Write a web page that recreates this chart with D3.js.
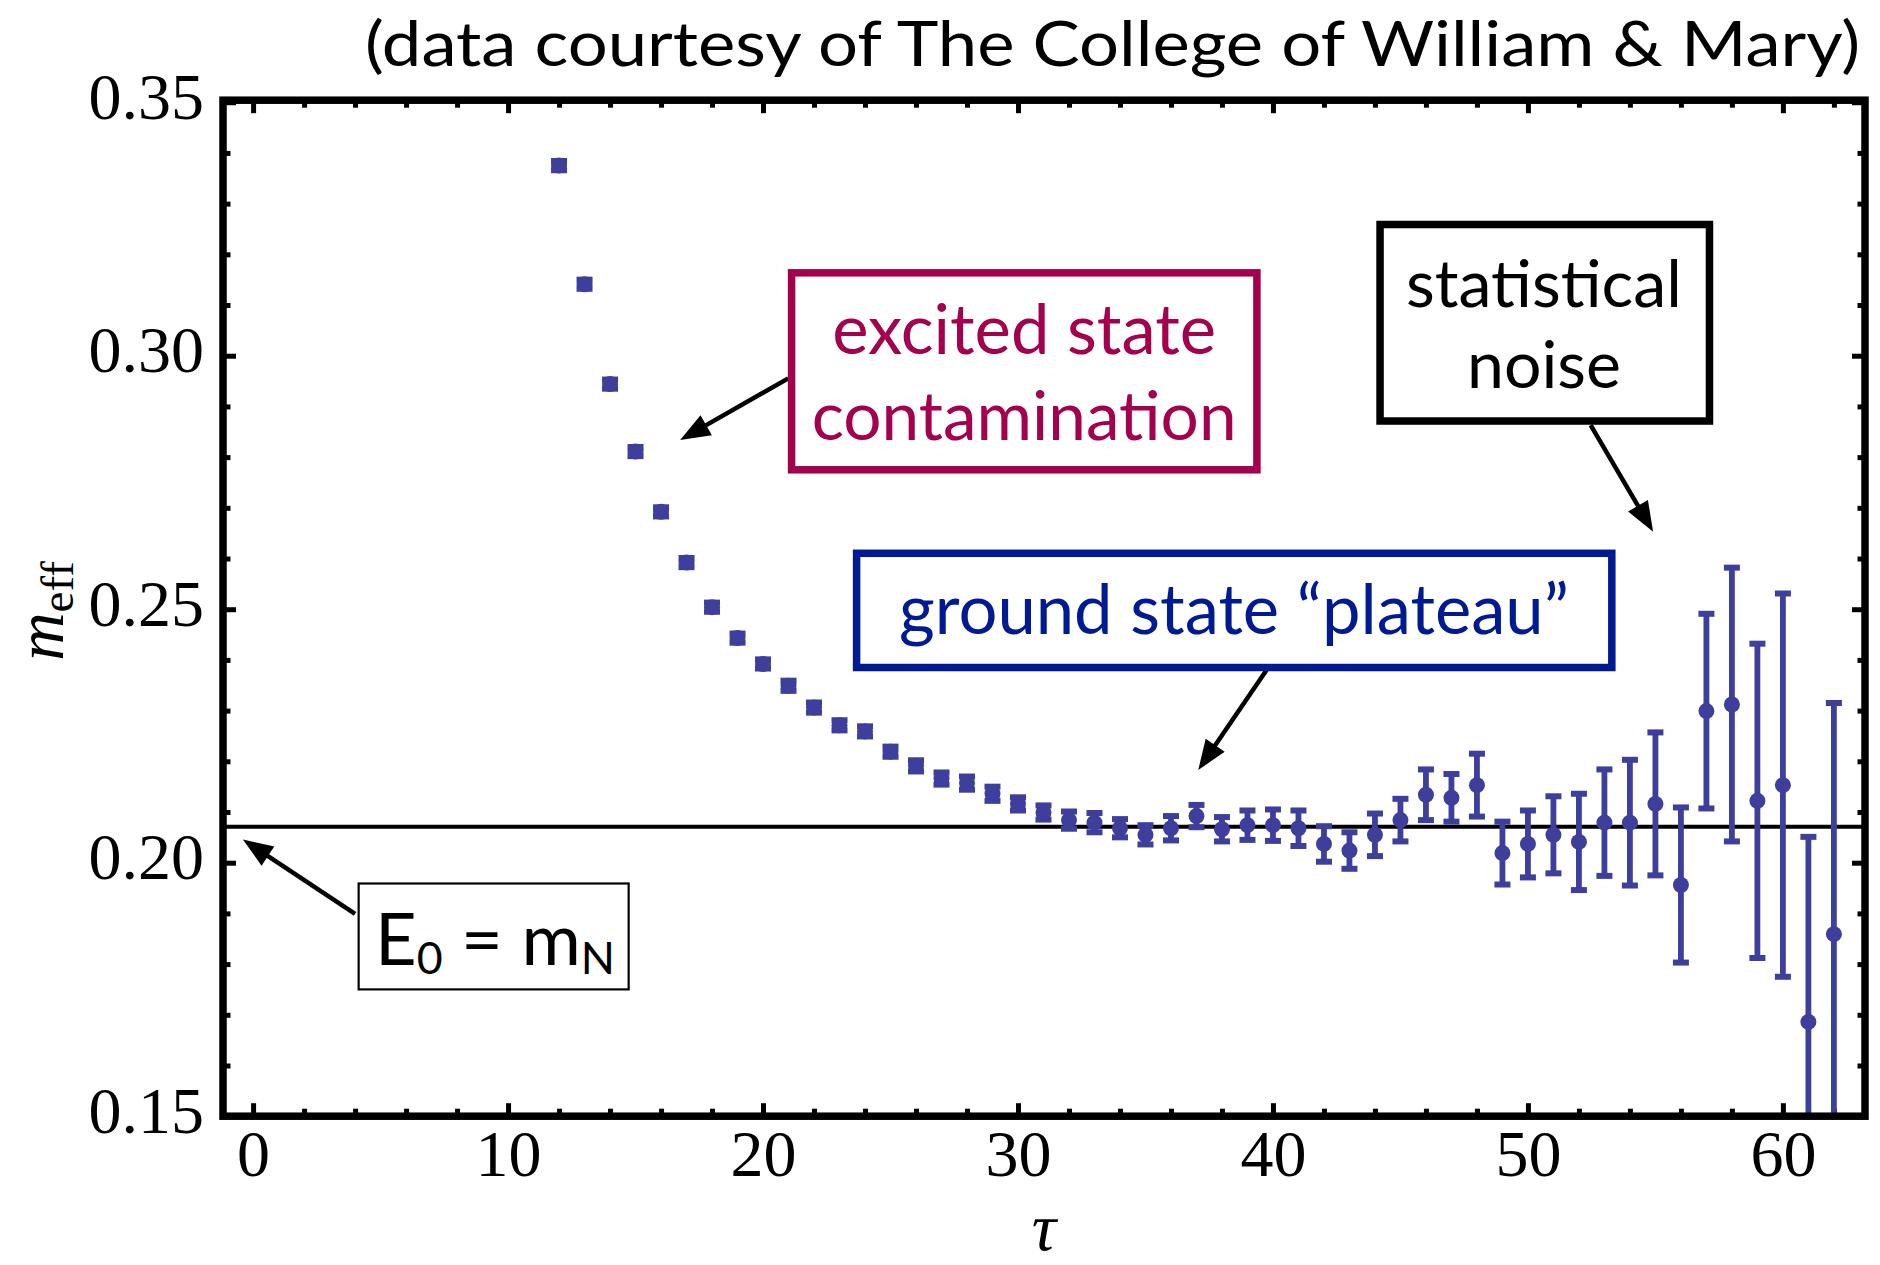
<!DOCTYPE html>
<html><head><meta charset="utf-8">
<script src="https://cdn.jsdelivr.net/npm/d3@7"></script>
<style>body{margin:0;background:#fff}</style>
</head><body>
<svg id="c" width="1880" height="1265"></svg>
<script>
// ---- data ----
const tau  = [12,13,14,15,16,17,18,19,20,21,22,23,24,25,26,27,28,29,30,31,32,33,34,35,36,37,
              38,39,40,41,42,43,44,45,46,47,48,49,50,51,52,53,54,55,56,57,58,59,60,61,62];
const meff = [0.3375,0.3141,0.2944,0.2811,0.2692,0.2592,0.2504,0.2443,0.2392,0.2349,0.2306,0.2271,
              0.2259,0.2219,0.2191,0.2166,0.2157,0.2136,0.2116,0.2099,0.2084,0.2079,0.2068,0.2055,
              0.2068,0.2092,0.2066,0.2074,0.2074,0.2068,0.2037,0.2024,0.2055,0.2084,0.2134,0.2128,
              0.2153,0.2019,0.2037,0.2055,0.2041,0.2079,0.2079,0.2116,0.1956,0.2299,0.2312,0.2122,
              0.2153,0.1686,0.1859];
const errs = [0.0009,0.0009,0.0009,0.0009,0.0009,0.0009,0.0009,0.0009,0.0009,0.0010,0.0010,0.0010,
              0.0010,0.0010,0.0011,0.0012,0.0013,0.0014,0.0013,0.0014,0.0017,0.0019,0.0018,0.0019,
              0.0024,0.0022,0.0024,0.0029,0.0031,0.0035,0.0035,0.0036,0.0042,0.0042,0.0050,0.0047,
              0.0062,0.0062,0.0066,0.0076,0.0095,0.0105,0.0124,0.0141,0.0153,0.0192,0.0270,0.0310,
              0.0378,0.0365,0.0456];
const E0 = 0.2071;
const xTickVals = [0,10,20,30,40,50,60];
const xTickLabels = ["0","10","20","30","40","50","60"];
const yTickVals = [0.15,0.20,0.25,0.30,0.35];
const yTickLabels = ["0.15","0.20","0.25","0.30","0.35"];
const titleText = "(data courtesy of The College of William & Mary)";

// ---- layout ----
const svg = d3.select("#c");
const L = 223, R = 1865, T = 100.2, B = 1116.2;
const x = d3.scaleLinear().domain([-1.18, 63.22]).range([L, R]);
const y = d3.scaleLinear().domain([0.15, 0.3504]).range([B, T]);

const dataColor = "#3E3E9C";
const serif = "'Liberation Serif','Times New Roman',serif";
const sans = "Lato,'Open Sans',sans-serif";

svg.append("defs").append("clipPath").attr("id","clip")
  .append("rect").attr("x",L).attr("y",T).attr("width",R-L).attr("height",B-T);

// minor ticks
const xMinor = d3.range(0, 64, 2).filter(v => v % 10 !== 0);
const yMinor = d3.range(0.15, 0.3505, 0.01).map(v => +v.toFixed(2)).filter(v => Math.round(v*100) % 5 !== 0);

function ticks(g, axisFn, scale, vals, size) {
  g.call(axisFn(scale).tickValues(vals).tickSize(size).tickFormat(""));
  g.select(".domain").remove();
  g.selectAll(".tick line").attr("stroke","#000").attr("stroke-width",5);
}
// bottom
const gb = svg.append("g").attr("transform",`translate(0,${B})`);
gb.call(d3.axisBottom(x).tickValues(xTickVals).tickSize(-13).tickPadding(13)
        .tickFormat((d,i)=>xTickLabels[i]));
gb.select(".domain").remove();
gb.selectAll(".tick line").attr("stroke","#000").attr("stroke-width",5);
gb.selectAll(".tick text").attr("font-family",serif).attr("font-size",66).attr("fill","#000");
ticks(svg.append("g").attr("transform",`translate(0,${B})`), d3.axisBottom, x, xMinor, -7.5);
// top
ticks(svg.append("g").attr("transform",`translate(0,${T})`), d3.axisTop, x, xTickVals, -13);
ticks(svg.append("g").attr("transform",`translate(0,${T})`), d3.axisTop, x, xMinor, -7.5);
// left
const gl = svg.append("g").attr("transform",`translate(${L},0)`);
gl.call(d3.axisLeft(y).tickValues(yTickVals).tickSize(-13).tickPadding(19)
        .tickFormat((d,i)=>yTickLabels[i]));
gl.select(".domain").remove();
gl.selectAll(".tick line").attr("stroke","#000").attr("stroke-width",5);
gl.selectAll(".tick text").attr("font-family",serif).attr("font-size",66).attr("fill","#000").attr("dy","0.24em");
ticks(svg.append("g").attr("transform",`translate(${L},0)`), d3.axisLeft, y, yMinor, -7.5);
// right
ticks(svg.append("g").attr("transform",`translate(${R},0)`), d3.axisRight, y, yTickVals, -13);
ticks(svg.append("g").attr("transform",`translate(${R},0)`), d3.axisRight, y, yMinor, -7.5);

// E0 line
svg.append("line").attr("x1",L).attr("x2",R).attr("y1",y(E0)).attr("y2",y(E0))
  .attr("stroke","#000").attr("stroke-width",4);

// data
const pts = tau.map((t,i)=>({t, v:meff[i], e:errs[i]}));
const gd = svg.append("g").attr("clip-path","url(#clip)");
gd.selectAll("line.bar").data(pts).join("line").attr("class","bar")
  .attr("x1",d=>x(d.t)).attr("x2",d=>x(d.t))
  .attr("y1",d=>y(d.v-d.e)).attr("y2",d=>y(d.v+d.e))
  .attr("stroke",dataColor).attr("stroke-width",5.8);
gd.selectAll("line.capT").data(pts).join("line").attr("class","capT")
  .attr("x1",d=>x(d.t)-8).attr("x2",d=>x(d.t)+8)
  .attr("y1",d=>y(d.v+d.e)).attr("y2",d=>y(d.v+d.e))
  .attr("stroke",dataColor).attr("stroke-width",6);
gd.selectAll("line.capB").data(pts).join("line").attr("class","capB")
  .attr("x1",d=>x(d.t)-8).attr("x2",d=>x(d.t)+8)
  .attr("y1",d=>y(d.v-d.e)).attr("y2",d=>y(d.v-d.e))
  .attr("stroke",dataColor).attr("stroke-width",6);
gd.selectAll("circle").data(pts).join("circle")
  .attr("cx",d=>x(d.t)).attr("cy",d=>y(d.v)).attr("r",8).attr("fill",dataColor);

// frame
svg.append("rect").attr("x",L).attr("y",T).attr("width",R-L).attr("height",B-T)
  .attr("fill","none").attr("stroke","#000").attr("stroke-width",7.5);

// ---- annotations (positioned in data coordinates) ----
function fit(sel, target) {
  const w = sel.node().getComputedTextLength();
  const fs = parseFloat(sel.attr("font-size"));
  sel.attr("font-size", fs * target / w);
}
function box(t0, v0, t1, v1, color, sw) {
  svg.append("rect").attr("x",x(t0)).attr("y",y(v0))
    .attr("width",x(t1)-x(t0)).attr("height",y(v1)-y(v0))
    .attr("fill","#fff").attr("stroke",color).attr("stroke-width",sw);
}
function label(str, tc, vb, width, color, fs) {
  const s = svg.append("text").attr("x",x(tc)).attr("y",y(vb)).attr("text-anchor","middle")
    .attr("font-family",sans).attr("font-size",fs).attr("fill",color).text(str);
  fit(s, width);
  return s;
}
function arrow(t0, v0, t1, v1) {
  const x0 = x(t0), y0 = y(v0), x1 = x(t1), y1 = y(v1);
  const a = Math.atan2(y1-y0, x1-x0), hl = 30, hw = 11.5;
  const bx = x1 - hl*Math.cos(a), by = y1 - hl*Math.sin(a);
  svg.append("line").attr("x1",x0).attr("y1",y0).attr("x2",bx+3*Math.cos(a)).attr("y2",by+3*Math.sin(a))
    .attr("stroke","#000").attr("stroke-width",4.5);
  svg.append("polygon").attr("points",[
    [x1,y1],
    [bx - hw*Math.sin(a), by + hw*Math.cos(a)],
    [bx + hw*Math.sin(a), by - hw*Math.cos(a)]].map(p=>p.join(",")).join(" "))
    .attr("fill","#000");
}

const crimson = "#A3004D", navy = "#001A94";

// excited state contamination
arrow(20.99, 0.29554, 16.75, 0.28337);
box(21.12, 0.31635, 39.37, 0.27750, crimson, 7.5);
label("excited state", 30.24, 0.30028, 384, crimson, 64);
label("contamination", 30.24, 0.28337, 425, crimson, 64);

// ground state plateau
arrow(39.75, 0.23801, 37.07, 0.21828);
box(23.67, 0.26103, 53.29, 0.23850, navy, 7.5);
label("ground state \u201Cplateau\u201D", 38.47, 0.24511, 670, navy, 64);

// statistical noise
arrow(52.46, 0.28633, 54.91, 0.26529);
box(44.20, 0.32588, 57.12, 0.28712, "#000", 7.5);
label("statistical", 50.63, 0.30961, 276, "#000", 64);
label("noise", 50.63, 0.29363, 154, "#000", 64);

// E0 = mN
arrow(4.0, 0.18992, -0.40, 0.20458);
box(4.14, 0.19590, 14.73, 0.17501, "#000", 2.2);
const e0 = svg.append("text").attr("x",x(4.78)).attr("y",y(0.17982))
  .attr("font-family",sans).attr("font-size",62).attr("fill","#000");
e0.append("tspan").text("E");
e0.append("tspan").attr("font-size","0.62em").attr("dy","0.2em").text("0");
e0.append("tspan").attr("dy","-0.124em").text(" = m");
e0.append("tspan").attr("font-size","0.62em").attr("dy","0.2em").text("N");
fit(e0, 240);

// title
svg.append("text").attr("x",1860).attr("y",66).attr("text-anchor","end")
  .attr("font-family",sans).attr("font-size",62).attr("fill","#000")
  .attr("textLength",1495).attr("lengthAdjust","spacingAndGlyphs").text(titleText);

// axis titles
svg.append("text").attr("x",(L+R)/2).attr("y",1250).attr("text-anchor","middle")
  .attr("font-family",serif).attr("font-style","italic").attr("font-size",68).text("\u03C4");
const yl = svg.append("text").attr("transform","translate(63,611) rotate(-90)")
  .attr("text-anchor","middle").attr("font-family",serif).attr("font-size",67);
yl.append("tspan").attr("font-style","italic").text("m");
yl.append("tspan").attr("font-size","0.7em").attr("dy","0.22em").text("eff");
</script>
</body></html>
